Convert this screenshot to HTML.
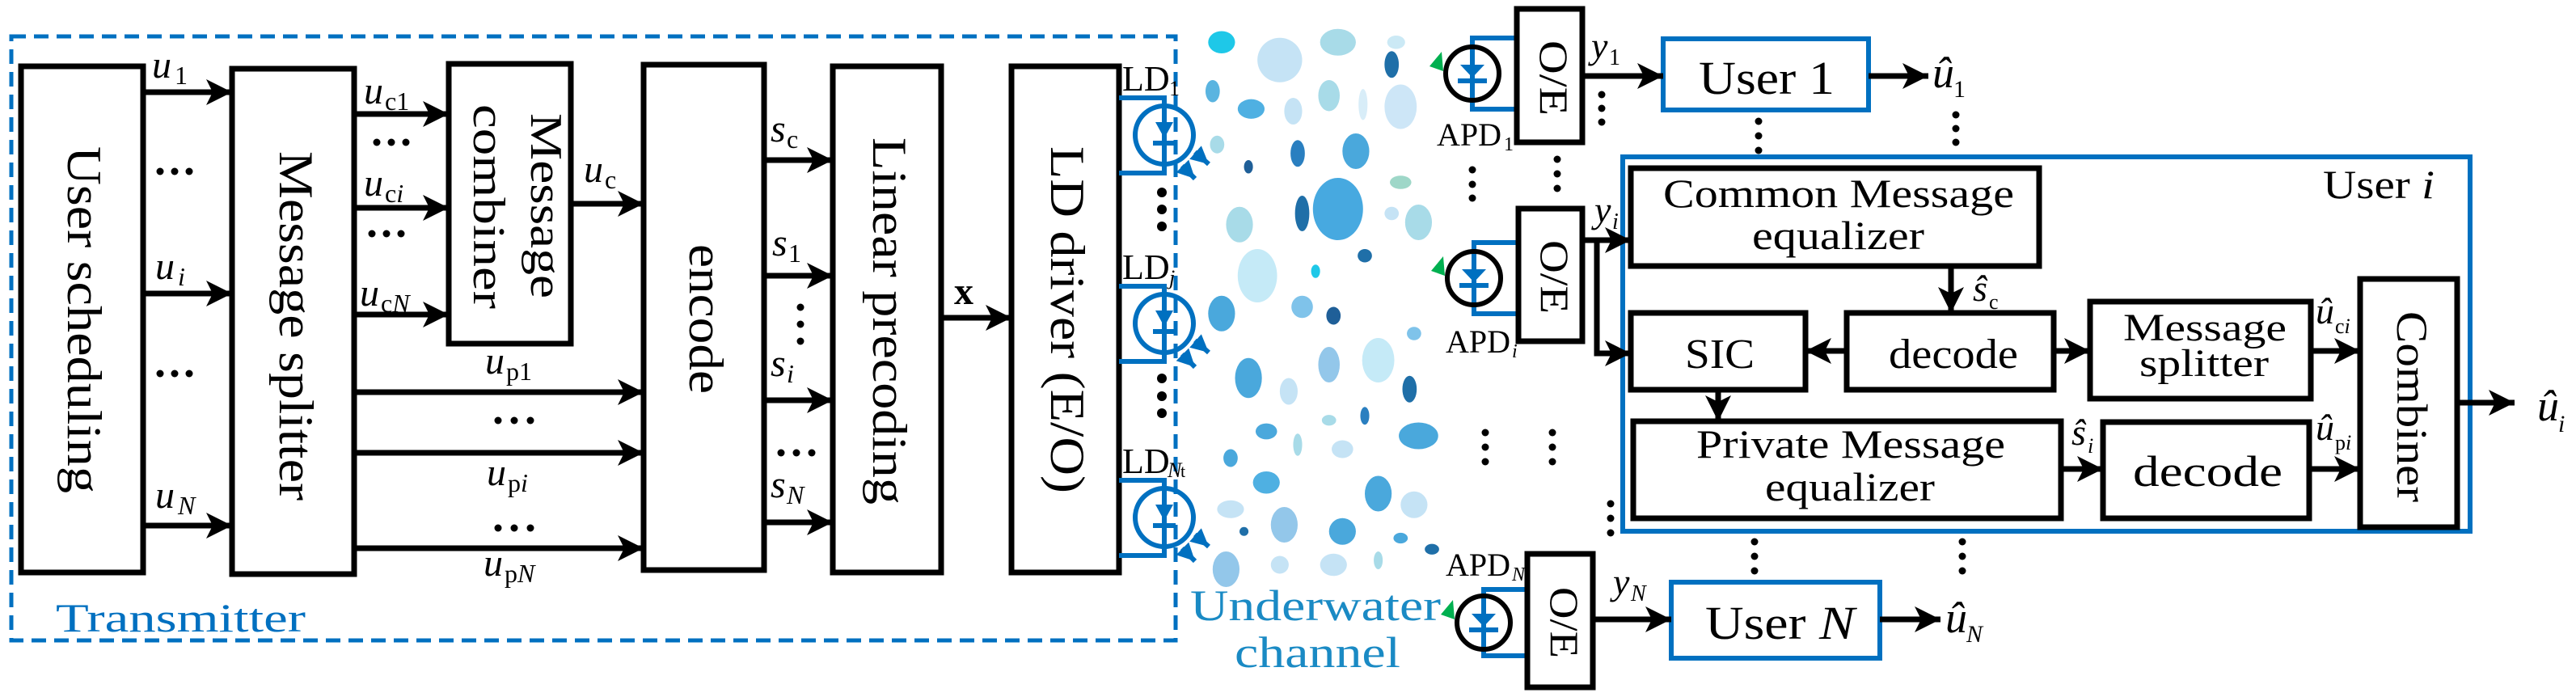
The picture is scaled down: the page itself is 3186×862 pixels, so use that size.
<!DOCTYPE html>
<html><head><meta charset="utf-8"><style>
html,body{margin:0;padding:0;background:#fff;}
svg{display:block;}
text{font-family:"Liberation Serif","Times New Roman",serif;fill:#000;}
.b{fill:none;stroke:#000;stroke-width:7;}
.bb{fill:none;stroke:#0070c0;stroke-width:6;}
.l{stroke:#000;stroke-width:7;fill:none;}
.i{font-style:italic;}
</style></head><body>
<svg width="3186" height="862" viewBox="0 0 3186 862" xmlns="http://www.w3.org/2000/svg" font-family="Liberation Serif, serif">
<defs>
<marker id="a" markerUnits="userSpaceOnUse" markerWidth="34" markerHeight="34" refX="32" refY="16" orient="auto"><path d="M0,0 L32,16 L0,32 L8,16 Z" fill="#000"/></marker>
<marker id="s" markerUnits="userSpaceOnUse" markerWidth="24" markerHeight="24" refX="22" refY="11" orient="auto"><path d="M0,0 L22,11 L0,22 Z" fill="#0070c0"/></marker>
</defs>

<!-- bubbles -->
<g transform="translate(1450,0) scale(1.107,0.55)">
<ellipse cx="55" cy="95" rx="15" ry="25" fill="#1ec8e8"/><ellipse cx="120" cy="135" rx="25" ry="50" fill="#c5e3f5"/><ellipse cx="185" cy="95" rx="20" ry="30" fill="#a8dbe8"/><ellipse cx="245" cy="145" rx="8" ry="30" fill="#1f6fa8"/><ellipse cx="250" cy="95" rx="10" ry="15" fill="#cbe9f5"/><ellipse cx="45" cy="205" rx="8" ry="25" fill="#5ab4e0"/><ellipse cx="88" cy="245" rx="15" ry="22" fill="#4fb0e2"/><ellipse cx="135" cy="250" rx="10" ry="30" fill="#c5e3f5"/><ellipse cx="175" cy="215" rx="12" ry="35" fill="#a8dbe8"/><ellipse cx="213" cy="235" rx="5" ry="35" fill="#d8edf8"/><ellipse cx="255" cy="240" rx="18" ry="50" fill="#cde6f7"/><ellipse cx="205" cy="340" rx="15" ry="40" fill="#4aa8dc"/><ellipse cx="140" cy="345" rx="8" ry="30" fill="#2a7fc0"/><ellipse cx="85" cy="375" rx="5" ry="15" fill="#1f5f98"/><ellipse cx="50" cy="325" rx="8" ry="20" fill="#a8dbe8"/><ellipse cx="185" cy="470" rx="28" ry="70" fill="#47a9e0"/><ellipse cx="145" cy="480" rx="8" ry="40" fill="#1f6fa8"/><ellipse cx="75" cy="505" rx="15" ry="40" fill="#a8dbe8"/><ellipse cx="255" cy="410" rx="12" ry="15" fill="#9ed7c8"/><ellipse cx="275" cy="500" rx="15" ry="40" fill="#a8dbe8"/><ellipse cx="245" cy="480" rx="8" ry="15" fill="#c5e3f5"/><ellipse cx="95" cy="620" rx="22" ry="60" fill="#c5eaf7"/><ellipse cx="160" cy="610" rx="5" ry="15" fill="#1ec8e8"/><ellipse cx="215" cy="575" rx="8" ry="15" fill="#1f6fa8"/><ellipse cx="55" cy="705" rx="15" ry="40" fill="#4aa8dc"/><ellipse cx="145" cy="690" rx="12" ry="25" fill="#7fc3ea"/><ellipse cx="180" cy="710" rx="8" ry="20" fill="#1f5f98"/><ellipse cx="270" cy="750" rx="8" ry="15" fill="#7fc3ea"/><ellipse cx="230" cy="810" rx="18" ry="50" fill="#c5eaf7"/><ellipse cx="175" cy="820" rx="12" ry="40" fill="#93c7ea"/><ellipse cx="85" cy="850" rx="15" ry="45" fill="#4aa8dc"/><ellipse cx="130" cy="880" rx="10" ry="30" fill="#c5e3f5"/><ellipse cx="265" cy="875" rx="8" ry="30" fill="#1f6fa8"/><ellipse cx="215" cy="935" rx="5" ry="20" fill="#2a7fc0"/><ellipse cx="105" cy="970" rx="12" ry="18" fill="#4aa8dc"/><ellipse cx="175" cy="945" rx="8" ry="12" fill="#a8dbe8"/><ellipse cx="275" cy="980" rx="22" ry="30" fill="#4aa8dc"/><ellipse cx="140" cy="1000" rx="5" ry="25" fill="#a8dbe8"/><ellipse cx="65" cy="1030" rx="8" ry="20" fill="#4aa8dc"/><ellipse cx="190" cy="1010" rx="12" ry="20" fill="#c5e3f5"/><ellipse cx="105" cy="1085" rx="15" ry="25" fill="#4fb0e2"/><ellipse cx="230" cy="1110" rx="15" ry="40" fill="#4aa8dc"/><ellipse cx="270" cy="1135" rx="15" ry="30" fill="#c5e3f5"/><ellipse cx="65" cy="1145" rx="15" ry="20" fill="#c5e3f5"/><ellipse cx="125" cy="1180" rx="15" ry="40" fill="#93c7ea"/><ellipse cx="190" cy="1195" rx="15" ry="30" fill="#4aa8dc"/><ellipse cx="255" cy="1210" rx="8" ry="12" fill="#4aa8dc"/><ellipse cx="80" cy="1195" rx="5" ry="10" fill="#1f6fa8"/><ellipse cx="290" cy="1235" rx="8" ry="12" fill="#1f6fa8"/><ellipse cx="60" cy="1280" rx="15" ry="40" fill="#93c7ea"/><ellipse cx="120" cy="1270" rx="10" ry="20" fill="#c5e3f5"/><ellipse cx="180" cy="1270" rx="15" ry="25" fill="#c5e3f5"/><ellipse cx="230" cy="1260" rx="5" ry="20" fill="#a8dbe8"/>
</g>

<!-- transmitter dashed -->
<rect x="14" y="45" width="1440" height="747" fill="none" stroke="#0070c0" stroke-width="5" stroke-dasharray="18,10"/>
<text x="69" y="781" font-size="50" style="fill:#0070c0" textLength="309" lengthAdjust="spacingAndGlyphs">Transmitter</text>

<!-- left boxes -->
<rect class="b" x="26" y="82" width="151" height="626"/>
<rect class="b" x="287" y="85" width="151" height="625"/>
<rect class="b" x="555" y="79" width="151" height="346"/>
<rect class="b" x="796" y="80" width="149" height="625"/>
<rect class="b" x="1030" y="82" width="134" height="626"/>
<rect class="b" x="1251" y="82" width="133" height="626"/>

<text transform="translate(84,181) rotate(90)" font-size="60" textLength="429" lengthAdjust="spacingAndGlyphs">User scheduling</text>
<text transform="translate(346,187) rotate(90)" font-size="60" textLength="432" lengthAdjust="spacingAndGlyphs">Message splitter</text>
<text transform="translate(657,140) rotate(90)" font-size="56" textLength="229" lengthAdjust="spacingAndGlyphs">Message</text>
<text transform="translate(586,129) rotate(90)" font-size="56" textLength="253" lengthAdjust="spacingAndGlyphs">combiner</text>
<text transform="translate(853,302) rotate(90)" font-size="60" textLength="185" lengthAdjust="spacingAndGlyphs">encode</text>
<text transform="translate(1080,170) rotate(90)" font-size="60" textLength="454" lengthAdjust="spacingAndGlyphs">Linear precoding</text>
<text transform="translate(1300,181) rotate(90)" font-size="60" textLength="429" lengthAdjust="spacingAndGlyphs">LD driver (E/O)</text>

<!-- arrows left -->
<g class="l">
<line x1="177" y1="114" x2="287" y2="114" marker-end="url(#a)"/>
<line x1="177" y1="363" x2="287" y2="363" marker-end="url(#a)"/>
<line x1="177" y1="650" x2="287" y2="650" marker-end="url(#a)"/>
<line x1="438" y1="141" x2="555" y2="141" marker-end="url(#a)"/>
<line x1="438" y1="257" x2="555" y2="257" marker-end="url(#a)"/>
<line x1="438" y1="389" x2="555" y2="389" marker-end="url(#a)"/>
<line x1="706" y1="252" x2="796" y2="252" marker-end="url(#a)"/>
<line x1="438" y1="485" x2="796" y2="485" marker-end="url(#a)"/>
<line x1="438" y1="560" x2="796" y2="560" marker-end="url(#a)"/>
<line x1="438" y1="678" x2="796" y2="678" marker-end="url(#a)"/>
<line x1="945" y1="198" x2="1030" y2="198" marker-end="url(#a)"/>
<line x1="945" y1="341" x2="1030" y2="341" marker-end="url(#a)"/>
<line x1="945" y1="495" x2="1030" y2="495" marker-end="url(#a)"/>
<line x1="945" y1="646" x2="1030" y2="646" marker-end="url(#a)"/>
<line x1="1164" y1="393" x2="1251" y2="393" marker-end="url(#a)"/>
</g>

<!-- labels left -->
<g font-size="48">
<text x="188" y="96" class="i">u</text><text x="216" y="104" font-size="32">1</text>
<text x="192" y="345" class="i">u</text><text x="220" y="353" font-size="32" class="i">i</text>
<text x="192" y="628" class="i">u</text><text x="220" y="636" font-size="32" class="i">N</text>
<text x="450" y="128" class="i">u</text><text x="476" y="136" font-size="32">c1</text>
<text x="450" y="242" class="i">u</text><text x="476" y="250" font-size="32">c<tspan class="i">i</tspan></text>
<text x="445" y="378" class="i">u</text><text x="471" y="386" font-size="32">c<tspan class="i">N</tspan></text>
<text x="722" y="225" class="i">u</text><text x="748" y="233" font-size="32">c</text>
<text x="600" y="462" class="i">u</text><text x="626" y="470" font-size="32">p1</text>
<text x="602" y="600" class="i">u</text><text x="628" y="608" font-size="32">p<tspan class="i">i</tspan></text>
<text x="598" y="712" class="i">u</text><text x="624" y="720" font-size="32">p<tspan class="i">N</tspan></text>
<text x="953" y="175" class="i">s</text><text x="973" y="183" font-size="32">c</text>
<text x="955" y="316" class="i">s</text><text x="975" y="324" font-size="32">1</text>
<text x="953" y="465" class="i">s</text><text x="973" y="473" font-size="32" class="i">i</text>
<text x="953" y="615" class="i">s</text><text x="973" y="623" font-size="32" class="i">N</text>
<text x="1180" y="376" font-weight="bold">x</text>
<text x="1388" y="112" font-size="44">LD</text><text x="1446" y="118" font-size="26">1</text>
<text x="1388" y="345" font-size="44">LD</text><text x="1446" y="352" font-size="26" class="i">j</text>
<text x="1388" y="585" font-size="44">LD</text><text x="1444" y="590" font-size="26" class="i">N</text><text x="1460" y="590" font-size="22">t</text>
</g>

<!-- dots -->
<g fill="#000">
<circle cx="198" cy="212" r="4.5"/><circle cx="216" cy="212" r="4.5"/><circle cx="234" cy="212" r="4.5"/>
<circle cx="198" cy="462" r="4.5"/><circle cx="216" cy="462" r="4.5"/><circle cx="234" cy="462" r="4.5"/>
<circle cx="466" cy="176" r="4.5"/><circle cx="484" cy="176" r="4.5"/><circle cx="502" cy="176" r="4.5"/>
<circle cx="460" cy="289" r="4.5"/><circle cx="478" cy="289" r="4.5"/><circle cx="496" cy="289" r="4.5"/>
<circle cx="616" cy="520" r="4.5"/><circle cx="636" cy="520" r="4.5"/><circle cx="656" cy="520" r="4.5"/>
<circle cx="616" cy="653" r="4.5"/><circle cx="636" cy="653" r="4.5"/><circle cx="656" cy="653" r="4.5"/>
<circle cx="966" cy="560" r="4.5"/><circle cx="985" cy="560" r="4.5"/><circle cx="1004" cy="560" r="4.5"/>
<circle cx="990" cy="380" r="4.5"/><circle cx="990" cy="401" r="4.5"/><circle cx="990" cy="422" r="4.5"/>
<circle cx="1437" cy="238" r="6"/><circle cx="1437" cy="259" r="6"/><circle cx="1437" cy="280" r="6"/>
<circle cx="1437" cy="468" r="6"/><circle cx="1437" cy="490" r="6"/><circle cx="1437" cy="511" r="6"/>
</g>

<!-- LEDs -->
<g stroke="#0070c0" stroke-width="6" fill="none">
<path d="M1384 121 H1440 V214 H1384"/><circle cx="1440" cy="167" r="36"/>
<path d="M1384 354 H1440 V447 H1384"/><circle cx="1440" cy="400" r="36"/>
<path d="M1384 594 H1440 V687 H1384"/><circle cx="1440" cy="640" r="36"/>
<line x1="1478" y1="188" x2="1495" y2="203" marker-end="url(#s)"/><line x1="1462" y1="205" x2="1478" y2="221" marker-end="url(#s)"/>
<line x1="1478" y1="421" x2="1495" y2="436" marker-end="url(#s)"/><line x1="1462" y1="438" x2="1478" y2="454" marker-end="url(#s)"/>
<line x1="1478" y1="661" x2="1495" y2="676" marker-end="url(#s)"/><line x1="1462" y1="678" x2="1478" y2="694" marker-end="url(#s)"/>
</g>
<g fill="#0070c0">
<path d="M1429 151 H1451 L1440 171 Z"/><rect x="1426" y="174" width="28" height="6"/>
<path d="M1429 384 H1451 L1440 404 Z"/><rect x="1426" y="407" width="28" height="6"/>
<path d="M1429 624 H1451 L1440 644 Z"/><rect x="1426" y="647" width="28" height="6"/>
</g>

<!-- APDs -->
<g stroke="#0070c0" stroke-width="6" fill="none">
<path d="M1876 47 H1821 V135 H1876"/>
<path d="M1878 300 H1823 V388 H1878"/>
<path d="M1889 729 H1835 V811 H1889"/>
</g>
<g stroke="#000" stroke-width="6" fill="none">
<circle cx="1821" cy="91" r="33"/><circle cx="1823" cy="344" r="33"/><circle cx="1835" cy="770" r="33"/>
</g>
<g fill="#0070c0">
<path d="M1806 80 H1836 L1821 96 Z"/><rect x="1803" y="97" width="36" height="6"/>
<path d="M1808 333 H1838 L1823 349 Z"/><rect x="1805" y="350" width="36" height="6"/>
<path d="M1820 759 H1850 L1835 775 Z"/><rect x="1817" y="776" width="36" height="6"/>
</g>
<g fill="#00b050">
<path d="M1768 82 L1783 64 L1785 88 Z"/><path d="M1770 335 L1785 317 L1787 341 Z"/><path d="M1782 760 L1797 742 L1799 766 Z"/>
</g>
<g font-size="40">
<text x="1777" y="180">APD</text><text x="1860" y="186" font-size="24">1</text>
<text x="1788" y="436">APD</text><text x="1870" y="442" font-size="24" class="i">i</text>
<text x="1788" y="712">APD</text><text x="1870" y="718" font-size="24" class="i">N</text>
</g>

<!-- O/E boxes -->
<rect class="b" x="1876" y="11" width="81" height="165"/>
<rect class="b" x="1878" y="258" width="79" height="164"/>
<rect class="b" x="1889" y="685" width="81" height="165"/>
<text transform="translate(1905,50) rotate(90)" font-size="50" textLength="93" lengthAdjust="spacingAndGlyphs">O/E</text>
<text transform="translate(1906,297) rotate(90)" font-size="50" textLength="91" lengthAdjust="spacingAndGlyphs">O/E</text>
<text transform="translate(1918,726) rotate(90)" font-size="50" textLength="88" lengthAdjust="spacingAndGlyphs">O/E</text>

<!-- users -->
<rect class="bb" x="2057" y="48" width="254" height="88"/>
<text x="2101" y="116" font-size="58" textLength="168" lengthAdjust="spacingAndGlyphs">User 1</text>
<rect class="bb" x="2067" y="720" width="258" height="94"/>
<text x="2109" y="790" font-size="58" textLength="185" lengthAdjust="spacingAndGlyphs">User <tspan class="i">N</tspan></text>
<rect class="bb" x="2007" y="194" width="1048" height="463"/>
<text x="2873" y="245" font-size="50" textLength="138" lengthAdjust="spacingAndGlyphs">User <tspan class="i">i</tspan></text>

<rect class="b" x="2017" y="208" width="505" height="121"/>
<text x="2057" y="256" font-size="50" textLength="434" lengthAdjust="spacingAndGlyphs">Common Message</text>
<text x="2167" y="308" font-size="50" textLength="213" lengthAdjust="spacingAndGlyphs">equalizer</text>
<rect class="b" x="2017" y="387" width="216" height="95"/>
<text x="2084" y="455" font-size="52" textLength="86" lengthAdjust="spacingAndGlyphs">SIC</text>
<rect class="b" x="2284" y="387" width="256" height="95"/>
<text x="2336" y="455" font-size="52" textLength="160" lengthAdjust="spacingAndGlyphs">decode</text>
<rect class="b" x="2585" y="373" width="273" height="120"/>
<text x="2626" y="421" font-size="48" textLength="202" lengthAdjust="spacingAndGlyphs">Message</text>
<text x="2646" y="465" font-size="48" textLength="160" lengthAdjust="spacingAndGlyphs">splitter</text>
<rect class="b" x="2020" y="521" width="529" height="120"/>
<text x="2098" y="566" font-size="50" textLength="382" lengthAdjust="spacingAndGlyphs">Private Message</text>
<text x="2183" y="619" font-size="50" textLength="210" lengthAdjust="spacingAndGlyphs">equalizer</text>
<rect class="b" x="2601" y="522" width="255" height="119"/>
<text x="2638" y="601" font-size="54" textLength="185" lengthAdjust="spacingAndGlyphs">decode</text>
<rect class="b" x="2919" y="345" width="120" height="307"/>
<text transform="translate(2965,385) rotate(90)" font-size="54" textLength="236" lengthAdjust="spacingAndGlyphs">Combiner</text>

<!-- right arrows -->
<g class="l">
<line x1="1957" y1="94" x2="2057" y2="94" marker-end="url(#a)"/>
<line x1="2311" y1="94" x2="2385" y2="94" marker-end="url(#a)"/>
<line x1="1957" y1="297" x2="2017" y2="297" marker-end="url(#a)"/>
<polyline points="1957,297 1975,297 1975,437 2017,437" marker-end="url(#a)"/>
<line x1="2413" y1="329" x2="2413" y2="387" marker-end="url(#a)"/>
<line x1="2284" y1="434" x2="2233" y2="434" marker-end="url(#a)"/>
<line x1="2540" y1="434" x2="2585" y2="434" marker-end="url(#a)"/>
<line x1="2858" y1="434" x2="2919" y2="434" marker-end="url(#a)"/>
<line x1="2125" y1="482" x2="2125" y2="521" marker-end="url(#a)"/>
<line x1="2549" y1="580" x2="2601" y2="580" marker-end="url(#a)"/>
<line x1="2856" y1="580" x2="2919" y2="580" marker-end="url(#a)"/>
<line x1="3039" y1="498" x2="3110" y2="498" marker-end="url(#a)"/>
<line x1="1970" y1="766" x2="2067" y2="766" marker-end="url(#a)"/>
<line x1="2325" y1="766" x2="2400" y2="766" marker-end="url(#a)"/>
</g>

<!-- right labels -->
<g font-size="46">
<text x="1968" y="72" class="i">y</text><text x="1990" y="80" font-size="28">1</text>
<text x="1972" y="275" class="i">y</text><text x="1994" y="283" font-size="28" class="i">i</text>
<text x="1995" y="735" class="i">y</text><text x="2017" y="743" font-size="28" class="i">N</text>
<text x="2390" y="108" class="i" font-size="54">û</text><text x="2416" y="120" font-size="30">1</text>
<text x="2406" y="782" class="i" font-size="54">û</text><text x="2432" y="794" font-size="30" class="i">N</text>
<text x="3138" y="520" class="i" font-size="54">û</text><text x="3164" y="534" font-size="30" class="i">i</text>
<text x="2440" y="372" class="i">ŝ</text><text x="2460" y="382" font-size="26">c</text>
<text x="2562" y="550" class="i">ŝ</text><text x="2582" y="560" font-size="26" class="i">i</text>
<text x="2864" y="400" class="i">û</text><text x="2888" y="412" font-size="26">c<tspan class="i">i</tspan></text>
<text x="2864" y="544" class="i">û</text><text x="2888" y="556" font-size="26">p<tspan class="i">i</tspan></text>
</g>
<text x="1472" y="767" font-size="54" style="fill:#1a8ac4" textLength="310" lengthAdjust="spacingAndGlyphs">Underwater</text>
<text x="1527" y="825" font-size="54" style="fill:#1a8ac4" textLength="205" lengthAdjust="spacingAndGlyphs">channel</text>

<!-- right dots -->
<g fill="#000">
<circle cx="1981" cy="117" r="4.5"/><circle cx="1981" cy="134" r="4.5"/><circle cx="1981" cy="151" r="4.5"/>
<circle cx="2175" cy="150" r="4.5"/><circle cx="2175" cy="168" r="4.5"/><circle cx="2175" cy="186" r="4.5"/>
<circle cx="2419" cy="142" r="4.5"/><circle cx="2419" cy="159" r="4.5"/><circle cx="2419" cy="176" r="4.5"/>
<circle cx="1821" cy="210" r="4.5"/><circle cx="1821" cy="228" r="4.5"/><circle cx="1821" cy="245" r="4.5"/>
<circle cx="1926" cy="197" r="4.5"/><circle cx="1926" cy="215" r="4.5"/><circle cx="1926" cy="233" r="4.5"/>
<circle cx="1837" cy="535" r="4.5"/><circle cx="1837" cy="553" r="4.5"/><circle cx="1837" cy="571" r="4.5"/>
<circle cx="1920" cy="535" r="4.5"/><circle cx="1920" cy="553" r="4.5"/><circle cx="1920" cy="571" r="4.5"/>
<circle cx="1992" cy="623" r="4.5"/><circle cx="1992" cy="641" r="4.5"/><circle cx="1992" cy="659" r="4.5"/>
<circle cx="2170" cy="670" r="4.5"/><circle cx="2170" cy="688" r="4.5"/><circle cx="2170" cy="706" r="4.5"/>
<circle cx="2427" cy="670" r="4.5"/><circle cx="2427" cy="688" r="4.5"/><circle cx="2427" cy="706" r="4.5"/>
</g>
</svg>
</body></html>
